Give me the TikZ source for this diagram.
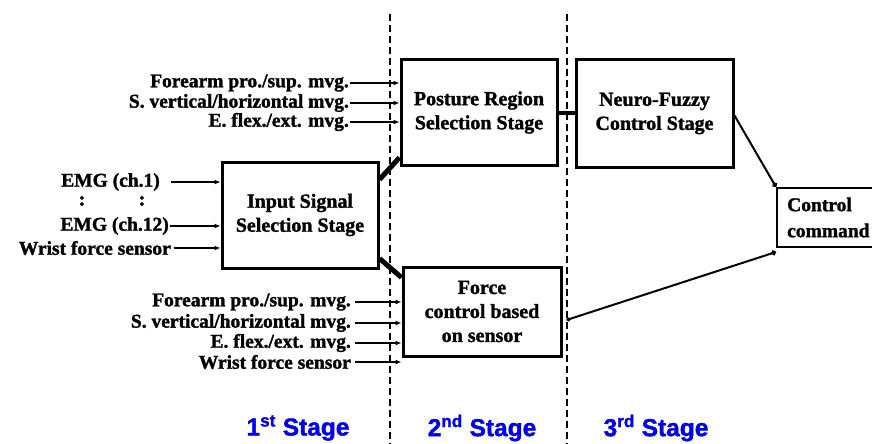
\documentclass[tikz,border=0pt]{standalone}
\usepackage{fontspec}
\setmainfont{Liberation Serif}[BoldFeatures={FakeBold=1.5}]
\newfontfamily\stagefont{Liberation Sans}[BoldFeatures={FakeBold=1.5}]
\usetikzlibrary{arrows.meta,calc}
\definecolor{stageblue}{RGB}{0,0,235}
\tikzset{
  blk/.style={draw,line width=3pt,minimum width=#1,inner sep=0pt,align=center,
    font=\fontsize{20}{24}\selectfont\bfseries},
  lbl/.style={inner sep=1pt,font=\fontsize{19.5}{22}\selectfont\bfseries},
  inarrow/.style={line width=1.8pt,-{Latex[length=6pt,width=5pt]}},
  thickcon/.style={line width=5pt},
  divider/.style={line width=2.6pt,dash pattern=on 7pt off 4pt},
  dotcon/.style={line width=2pt,{Circle[length=4pt]}-{Circle[length=5pt]}},
  stagelbl/.style={text=stageblue,font=\stagefont\fontsize{24.5}{28}\selectfont\bfseries}
}
\begin{document}
\begin{tikzpicture}[x=1pt,y=-1pt]
\useasboundingbox (0,0) rectangle (872,444);
% dividers
\coordinate (d1t) at (390,14); \coordinate (d1b) at (390,444);
\coordinate (d2t) at (567,14); \coordinate (d2b) at (567,444);
\draw[divider] (d1t) -- (d1b);
\draw[divider] (d2t) -- (d2b);
% blocks
\node[blk=156pt,minimum height=106pt] (input) at (300,215) {Input Signal\\Selection Stage};
\node[blk=156pt,minimum height=105pt] (posture) at (479,112.5) {Posture Region\\Selection Stage};
\node[blk=157pt,minimum height=107pt] (neuro) at (654.5,113.5) {Neuro-Fuzzy\\Control Stage};
\node[blk=158pt,minimum height=89pt] (force) at (482,311.5) {Force\\control based\\on sensor};
\node[draw,line width=2pt,minimum width=123pt,minimum height=59pt,inner sep=0pt] (control) at (838.5,217.5) {};
\node[lbl,anchor=west,align=left,font=\fontsize{19.5}{26}\selectfont\bfseries] (ctext) at (786,217.5) {Control\\command};
% top inputs
\node[lbl,anchor=east] (t1) at (350,83) {Forearm pro./sup. mvg.};
\node[lbl,anchor=east] (t2) at (350,103) {S. vertical/horizontal mvg.};
\node[lbl,anchor=east] (t3) at (350,122) {E. flex./ext. mvg.};
\foreach \n in {t1,t2,t3} \draw[inarrow] (\n.east) -- (\n.east -| posture.west);
% bottom inputs
\node[lbl,anchor=east] (b1) at (352,302) {Forearm pro./sup. mvg.};
\node[lbl,anchor=east] (b2) at (352,323) {S. vertical/horizontal mvg.};
\node[lbl,anchor=east] (b3) at (352,343) {E. flex./ext. mvg.};
\node[lbl,anchor=east] (b4) at (352,362) {Wrist force sensor};
\foreach \n in {b1,b2,b3,b4} \draw[inarrow] ([xshift=3pt]\n.east) -- (\n.east -| force.west);
% EMG inputs
\node[lbl,anchor=east] (e1) at (161,182) {EMG (ch.1)};
\node[lbl] (c1) at (82,201) {:};
\node[lbl] (c2) at (142,201) {:};
\node[lbl,anchor=east] (e2) at (170,226) {EMG (ch.12)};
\node[lbl,anchor=east] (e3) at (172,248) {Wrist force sensor};
\draw[inarrow] ([xshift=10pt]e1.east) -- (e1.east -| input.west);
\draw[inarrow] (e2.east) -- (e2.east -| input.west);
\draw[inarrow] ([xshift=2pt]e3.east) -- (e3.east -| input.west);
% stage connectors
\draw[thickcon] ([yshift=-19pt]input.north east) -- ([yshift=9pt]posture.south west);
\draw[thickcon] ([yshift=11pt]input.south east) -- ([yshift=-12pt]force.north west);
\draw[line width=4pt] (posture.east) -- (posture.east -| neuro.west);
\draw[line width=2pt,-{Circle[length=5pt]}] ([yshift=-2pt]neuro.east) -- (control.north west);
\draw[dotcon] ([xshift=4pt,yshift=-8.5pt]force.east) -- ([yshift=-4pt]control.south west);
% stage labels
\node[stagelbl] (s1) at (298,428) {1\textsuperscript{st} Stage};
\node[stagelbl] (s2) at (482,428) {2\textsuperscript{nd} Stage};
\node[stagelbl] (s3) at (656,428) {3\textsuperscript{rd} Stage};
\end{tikzpicture}
\end{document}
